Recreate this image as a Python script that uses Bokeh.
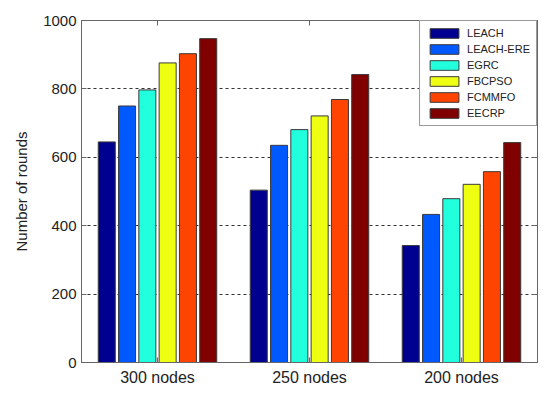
from bokeh.plotting import figure
from bokeh.models import (ColumnDataSource, FixedTicker, LinearAxis, Range1d, Legend)
from bokeh.transform import dodge
from bokeh.embed import file_html
from bokeh.resources import INLINE

groups = [1, 2, 3]
group_labels = ["300 nodes", "250 nodes", "200 nodes"]
series_names = ["LEACH", "LEACH-ERE", "EGRC", "FBCPSO", "FCMMFO", "EECRP"]
leach = [645, 504, 342]
leach_ere = [750, 635, 433]
egrc = [797, 681, 479]
fbcpso = [876, 721, 521]
fcmmfo = [903, 769, 558]
eecrp = [947, 842, 643]
colors = ["#000090", "#0058FF", "#22FFDD", "#EEFF12", "#FF4300", "#800000"]
y_ticks = [0, 200, 400, 600, 800, 1000]
grid_ticks = [200, 400, 600, 800]

data = {"x": groups}
all_series = [leach, leach_ere, egrc, fbcpso, fcmmfo, eecrp]
for name, vals in zip(series_names, all_series):
    data[name] = vals
source = ColumnDataSource(data)

FONT = "Liberation Sans"
AXC = "#666666"
TXT = "#222222"

p = figure(frame_width=456, frame_height=342,
           x_range=Range1d(0.5, 3.5), y_range=Range1d(0, 1000),
           output_backend="svg", toolbar_location=None,
           min_border_left=81, min_border_top=20,
           min_border_right=5, min_border_bottom=25)
p.background_fill_color = "white"
p.border_fill_color = "white"
p.outline_line_color = AXC
p.outline_line_width = 1

step = 0.1335
width = 0.112
for i, name in enumerate(series_names):
    off = (i - 2.5) * step
    p.vbar(x=dodge("x", off), top=name, width=width, bottom=0, source=source,
           fill_color=colors[i], line_color="#3a3a3a", line_width=1,
           legend_label=name)

# axes
p.xaxis.ticker = FixedTicker(ticks=groups)
p.xaxis.major_label_overrides = {g: l for g, l in zip(groups, group_labels)}
p.yaxis.ticker = FixedTicker(ticks=y_ticks)
for ax in [p.xaxis[0], p.yaxis[0]]:
    ax.axis_line_color = AXC
    ax.major_tick_line_color = AXC
    ax.major_tick_in = 5
    ax.major_tick_out = 0
    ax.minor_tick_line_color = None
    ax.major_label_text_font = FONT
    ax.major_label_text_color = TXT
p.xaxis.major_label_text_font_size = "16px"
p.xaxis.major_label_standoff = 6
p.yaxis.major_label_text_font_size = "15px"
p.yaxis.major_label_standoff = 5
p.yaxis.axis_label = "Number of rounds"
p.yaxis.axis_label_text_font = FONT
p.yaxis.axis_label_text_font_size = "15px"
p.yaxis.axis_label_text_font_style = "normal"
p.yaxis.axis_label_text_color = TXT
p.yaxis.axis_label_standoff = 10

right_ax = LinearAxis(ticker=FixedTicker(ticks=y_ticks), major_label_text_font_size="0px",
                      major_tick_in=5, major_tick_out=0, axis_line_color=AXC,
                      major_tick_line_color=AXC, minor_tick_line_color=None,
                      major_label_standoff=0)
right_ax.major_label_overrides = {t: "" for t in y_ticks}
p.add_layout(right_ax, "right")
top_ax = LinearAxis(ticker=FixedTicker(ticks=groups), major_label_text_font_size="0px",
                    major_tick_in=5, major_tick_out=0, axis_line_color=AXC,
                    major_tick_line_color=AXC, minor_tick_line_color=None,
                    major_label_standoff=0)
top_ax.major_label_overrides = {g: "" for g in groups}
p.add_layout(top_ax, "above")

# grid
p.xgrid.grid_line_color = None
p.ygrid.ticker = FixedTicker(ticks=grid_ticks)
p.ygrid.grid_line_color = "#333333"
p.ygrid.grid_line_dash = "3 3"
p.ygrid.grid_line_width = 1

# legend
lg = p.legend[0]
lg.location = "top_right"
lg.margin = 0
lg.padding = 6
lg.spacing = 4
lg.glyph_width = 36
lg.glyph_height = 12
lg.label_height = 12
lg.label_standoff = 5
lg.label_text_font = FONT
lg.label_text_font_size = "11px"
lg.label_text_color = TXT
lg.border_line_color = "#333333"
lg.border_line_width = 1
lg.background_fill_color = "white"
lg.background_fill_alpha = 1

open("out.html", "w").write(file_html(p, INLINE))
